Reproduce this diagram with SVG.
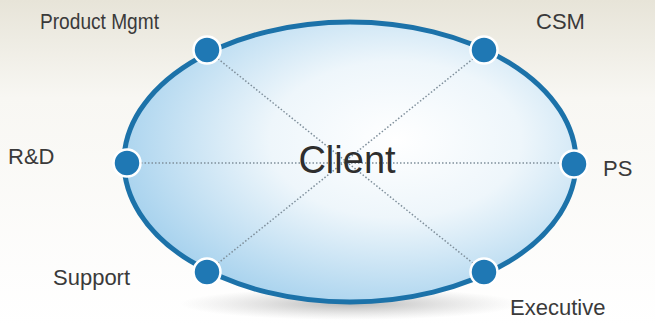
<svg xmlns="http://www.w3.org/2000/svg" width="655" height="326" viewBox="0 0 655 326">
<defs>
<linearGradient id="bg" x1="0" y1="0" x2="0" y2="1">
<stop offset="0" stop-color="#e7e4d8"/>
<stop offset="0.3" stop-color="#f8f7f3"/>
<stop offset="1" stop-color="#ffffff"/>
</linearGradient>
<radialGradient id="fill" cx="0.6" cy="0.42" r="0.62">
<stop offset="0" stop-color="#ffffff"/>
<stop offset="0.45" stop-color="#eef6fb"/>
<stop offset="1" stop-color="#a9d3ee"/>
</radialGradient>
<radialGradient id="shadow" cx="0.5" cy="0.5" r="0.5">
<stop offset="0" stop-color="#9a9a9a" stop-opacity="0.7"/>
<stop offset="1" stop-color="#bbbbbb" stop-opacity="0"/>
</radialGradient>
<style>
.lbl{font-family:"Liberation Sans",Arial,sans-serif;font-size:22px;fill:#3a3a3a}
.dot{fill:#1f78b4;stroke:#ffffff;stroke-width:2.5}
.conn{stroke:#7f8f9b;stroke-width:1.5;stroke-dasharray:1.5 2;fill:none}
</style>
</defs>
<rect width="655" height="326" fill="url(#bg)"/>
<ellipse cx="350" cy="304" rx="170" ry="16" fill="url(#shadow)"/>
<g id="ellipse">
<ellipse cx="350" cy="162" rx="226" ry="140" fill="url(#fill)" stroke="#1c72a9" stroke-width="5"/>
</g>
<g id="connectors">
<line class="conn" x1="207" y1="50" x2="484" y2="272"/>
<line class="conn" x1="484" y1="50" x2="207" y2="272"/>
<line class="conn" x1="127" y1="163" x2="574" y2="163"/>
</g>
<g id="client">
<text x="347" y="173" text-anchor="middle" font-family="Liberation Sans,Arial,sans-serif" font-size="38" fill="#2e2e2e">Client</text>
</g>
<g id="productmgmt"><circle class="dot" cx="207" cy="50" r="13.5"/><text class="lbl" x="40" y="29" textLength="119" lengthAdjust="spacingAndGlyphs">Product Mgmt</text></g>
<g id="csm"><circle class="dot" cx="484" cy="50" r="13.5"/><text class="lbl" x="536" y="29">CSM</text></g>
<g id="rd"><circle class="dot" cx="127" cy="163" r="13.5"/><text class="lbl" x="8" y="164">R&amp;D</text></g>
<g id="ps"><circle class="dot" cx="574" cy="164" r="13.5"/><text class="lbl" x="603" y="176">PS</text></g>
<g id="support"><circle class="dot" cx="207" cy="272" r="13.5"/><text class="lbl" x="53" y="285">Support</text></g>
<g id="executive"><circle class="dot" cx="484" cy="272" r="13.5"/><text class="lbl" x="510" y="315">Executive</text></g>
</svg>
